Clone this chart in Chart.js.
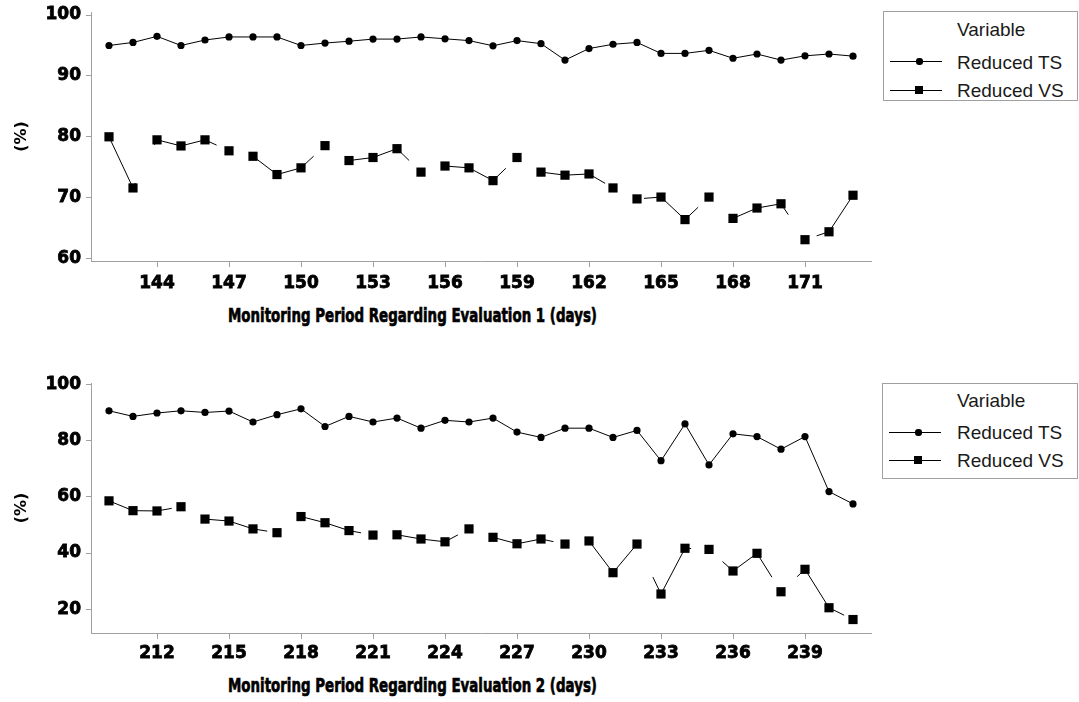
<!DOCTYPE html>
<html><head><meta charset="utf-8">
<script src="https://cdn.jsdelivr.net/npm/chart.js@4.4.1/dist/chart.umd.min.js"></script>
<style>
html,body{margin:0;padding:0;background:#fff;}
#wrap{position:relative;width:1079px;height:702px;overflow:hidden;background:#fff;}
canvas{position:absolute;left:0;}
.xt{position:absolute;font:bold 19px "DejaVu Sans";color:#000;white-space:nowrap;line-height:19px;transform-origin:0 50%;-webkit-text-stroke:0.7px #000;}
.lg{position:absolute;border:1px solid #a0a0a0;box-sizing:border-box;background:#fff;}
.lt{position:absolute;font:19px "Liberation Sans";color:#1a1a1a;white-space:nowrap;line-height:19px;}
.ll{position:absolute;height:1px;background:#000;}
.lm{position:absolute;background:#000;}
</style></head><body>
<div id="wrap">
<canvas id="c1" width="880" height="300" style="top:0"></canvas>
<canvas id="c2" width="880" height="300" style="top:360px"></canvas>
<div class="xt" id="t1" style="left:228px;top:306px">Monitoring Period Regarding Evaluation 1 (days)</div>
<div class="xt" id="t2" style="left:228px;top:676px">Monitoring Period Regarding Evaluation 2 (days)</div>

<div class="lg" style="left:883px;top:11px;width:195px;height:90px"></div>
<div class="lt" style="left:957px;top:20px">Variable</div>
<div class="lt" style="left:957px;top:53px">Reduced TS</div>
<div class="lt" style="left:957px;top:81px">Reduced VS</div>
<div class="ll" style="left:890px;top:61px;width:52px"></div>
<div class="lm" style="left:916px;top:58px;width:7px;height:7px;border-radius:3px"></div>
<div class="ll" style="left:890px;top:90px;width:52px"></div>
<div class="lm" style="left:915px;top:86px;width:8px;height:8px"></div>

<div class="lg" style="left:882px;top:383px;width:196px;height:96px"></div>
<div class="lt" style="left:957px;top:391px">Variable</div>
<div class="lt" style="left:957px;top:423px">Reduced TS</div>
<div class="lt" style="left:957px;top:451px">Reduced VS</div>
<div class="ll" style="left:889px;top:432px;width:52px"></div>
<div class="lm" style="left:915px;top:429px;width:7px;height:7px;border-radius:3px"></div>
<div class="ll" style="left:889px;top:460px;width:52px"></div>
<div class="lm" style="left:914px;top:456px;width:8px;height:8px"></div>
</div>
<script>
// ---- Evaluation 1 ----
const days1 = [142,143,144,145,146,147,148,149,150,151,152,153,154,155,156,157,158,159,160,161,162,163,164,165,166,167,168,169,170,171,172,173];
const ts1 = [95.0,95.5,96.5,95.0,95.9,96.4,96.4,96.4,95.0,95.4,95.7,96.05,96.05,96.4,96.1,95.8,94.95,95.8,95.3,92.6,94.5,95.2,95.5,93.7,93.7,94.2,92.9,93.6,92.6,93.3,93.6,93.25];
const vs1 = [80.0,71.6,79.5,78.5,79.5,77.7,76.8,73.8,74.9,78.55,76.1,76.6,78.05,74.2,75.2,74.9,72.8,76.6,74.2,73.7,73.9,71.6,69.8,70.1,66.4,70.1,66.6,68.3,69.0,63.1,64.4,70.4];
const xTicks1 = [144,147,150,153,156,159,162,165,168,171];
const yTicks1 = [60,70,80,90,100];

// ---- Evaluation 2 ----
const days2 = [210,211,212,213,214,215,216,217,218,219,220,221,222,223,224,225,226,227,228,229,230,231,232,233,234,235,236,237,238,239,240,241];
const ts2 = [90.7,88.7,89.9,90.7,90.1,90.6,86.7,89.3,91.4,85.1,88.7,86.7,88.1,84.5,87.3,86.7,88.1,83.1,81.2,84.5,84.5,81.2,83.7,72.9,86.0,71.4,82.5,81.5,77.0,81.5,61.9,57.5];
const vs2 = [58.6,55.1,55.0,56.5,52.1,51.4,48.6,47.25,53.0,50.8,48.0,46.4,46.5,45.0,44.0,48.6,45.6,43.3,45.0,43.2,44.3,33.0,43.2,25.4,41.7,41.3,33.6,39.9,26.2,34.2,20.5,16.3];
const xTicks2 = [212,215,218,221,224,227,230,233,236,239];
const yTicks2 = [20,40,60,80,100];

const seriesNames = ['Reduced TS','Reduced VS'];
const AXIS = '#a0a0a0';

// long-dash style of the VS line (dash pattern continuous along the whole line)
function dashSegment(d){
  const mlen = (a,b)=> Math.hypot(b.x-a.x, (b.y-a.y)/d.s);
  function info(ctx){
    const pts = ctx.chart.getDatasetMeta(ctx.datasetIndex).data;
    let cum = 0;
    for (let i=0;i<ctx.p0DataIndex;i++) cum += mlen(pts[i], pts[i+1]);
    const L = Math.hypot(ctx.p1.x-ctx.p0.x, ctx.p1.y-ctx.p0.y);
    const M = mlen(ctx.p0, ctx.p1);
    return {k: M>0 ? L/M : 1, cum};
  }
  return {
    borderDash: (ctx)=>{ const r = info(ctx); return [d.dash*r.k, d.gap*r.k]; },
    borderDashOffset: (ctx)=>{ const r = info(ctx); return (r.cum + d.off)*r.k; }
  };
}

function makeChart(id, days, ts, vs, xTicks, yTicks, cfg){
  const pts = (arr) => days.map((d,i)=>({x:d, y:arr[i]}));
  const tickFont = {family:'DejaVu Sans', weight:'bold', size:17};
  return new Chart(document.getElementById(id), {
    type:'line',
    data:{datasets:[
      {label:seriesNames[0], data:pts(ts), borderColor:'#000', borderWidth:1, pointStyle:'circle', pointRadius:3.6, pointBackgroundColor:'#000', pointBorderWidth:0, tension:0},
      {label:seriesNames[1], data:pts(vs), borderColor:'#000', borderWidth:1, pointStyle:'rect', pointRadius:6.5, pointBackgroundColor:'#000', pointBorderWidth:0, tension:0,
       segment: dashSegment(cfg.dash)}
    ]},
    options:{
      responsive:false, animation:false, events:[],
      layout:{padding:{left:0,right:9,top:cfg.top,bottom:0}},
      plugins:{legend:{display:false}, tooltip:{enabled:false}},
      scales:{
        x:{type:'linear', min:cfg.xmin, max:cfg.xmax,
           afterBuildTicks:(s)=>{s.ticks = xTicks.map(v=>({value:v}));},
           afterFit:(s)=>{s.height = cfg.h - cfg.bottom; s.paddingLeft=0; s.paddingRight=0;},
           grid:{drawOnChartArea:false, drawTicks:true, tickLength:6, color:AXIS},
           border:{color:AXIS, width:1},
           ticks:{color:'#000', padding:cfg.xpad, maxRotation:0, autoSkip:false, font:tickFont, textStrokeColor:'#000', textStrokeWidth:0.8}
        },
        y:{type:'linear', min:cfg.ymin, max:cfg.ymax,
           afterBuildTicks:(s)=>{s.ticks = yTicks.map(v=>({value:v}));},
           afterFit:(s)=>{s.width = 91; s.paddingTop=0; s.paddingBottom=0;},
           grid:{drawOnChartArea:false, drawTicks:true, tickLength:5, color:AXIS},
           border:{color:AXIS, width:1},
           ticks:{color:'#000', padding:5, autoSkip:false, font:tickFont, textStrokeColor:'#000', textStrokeWidth:0.8},
           title:{display:true, text:'(%)', color:'#000', padding:{top:12,bottom:0}, font:{family:'DejaVu Sans', weight:'bold', size:16}}
        }
      }
    }
  });
}

makeChart('c1', days1, ts1, vs1, xTicks1, yTicks1, {top:12, bottom:261, h:300, xmin:141.25, xmax:173.75, ymin:59.6, ymax:100.5, xpad:6,
  dash:{s:1, dash:68, gap:42.5, off:6}});
makeChart('c2', days2, ts2, vs2, xTicks2, yTicks2, {top:23, bottom:273, h:300, xmin:209.25, xmax:241.75, ymin:11.5, ymax:100.6, xpad:4,
  dash:{s:1.3, dash:64, gap:34.3, off:0}});

// fit x-axis titles to reference width
['t1','t2'].forEach(id=>{
  const el = document.getElementById(id);
  const w = el.getBoundingClientRect().width;
  el.style.transform = 'scaleX(' + (369/w) + ')';
});
</script>
</body></html>
